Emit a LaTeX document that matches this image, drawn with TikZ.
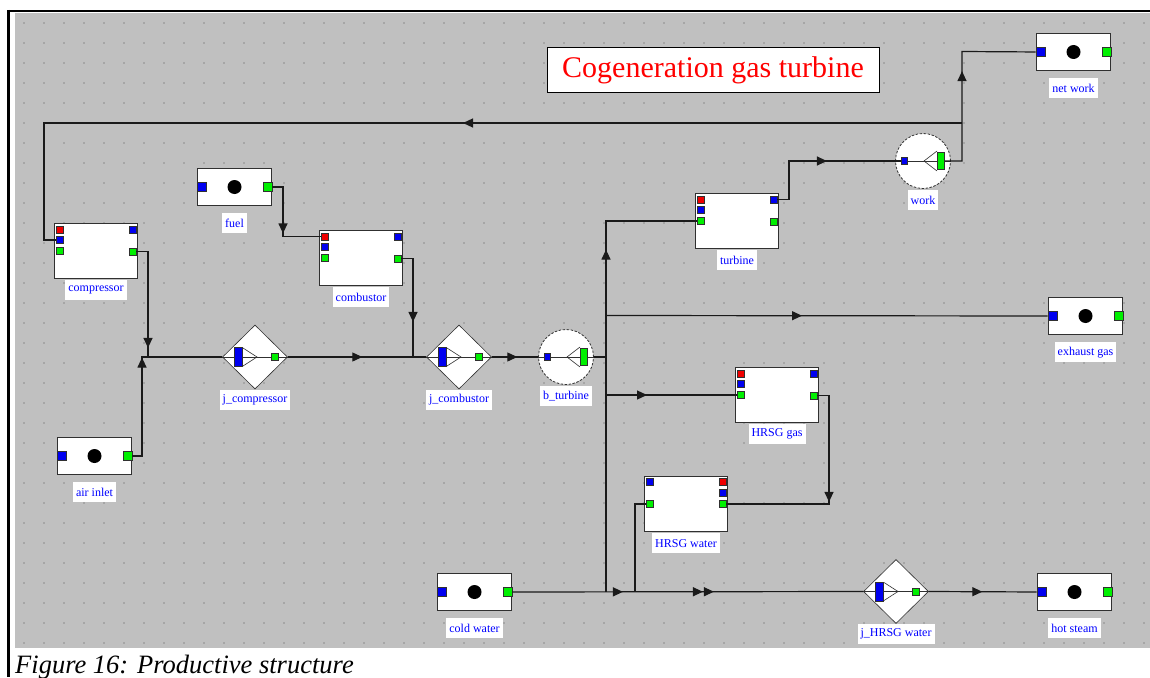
\documentclass[tikz,border=0pt]{standalone}
\usepackage{fontspec}
\setmainfont{Liberation Serif}
\usetikzlibrary{calc,shapes.geometric,arrows.meta,decorations.markings}

\definecolor{panel}{HTML}{C0C0C0}
\definecolor{griddot}{HTML}{A6A6A6}
\definecolor{pblue}{HTML}{0000F0}
\definecolor{pgreen}{HTML}{00F000}
\definecolor{pred}{HTML}{F00000}
\definecolor{tagblue}{HTML}{0000FF}
\definecolor{wirecol}{HTML}{1A1A1A}
\definecolor{edgecol}{HTML}{303030}

% source / sink unit: box with inlet port, outlet port and a dot
\newcommand\SrcUnit[4]{%
  \node[srcbox, anchor=north west] (#1) at (#2,#3) {};
  \node[srcport, fill=pblue]  (#1-b) at ($(#1.west)+(4.5,0)$) {};
  \node[srcport, fill=pgreen] (#1-g) at ($(#1.east)+(-4.5,0)$) {};
  \fill (#1.center) circle[radius=7pt];
  \node[tag, anchor=north] (#1-tag) at ($(#1.south)+(0,7)$) {#4};}

% process unit: three ports on the left, two on the right
\newcommand\ProcUnit[4]{%
  \node[procbox, anchor=north west] (#1) at (#2,#3) {};
  \node[pport, fill=pred]   (#1-lr) at ($(#1.north west)+(5.5,6.5)$) {};
  \node[pport, fill=pblue]  (#1-lb) at ($(#1.north west)+(5.5,17)$) {};
  \node[pport, fill=pgreen] (#1-lg) at ($(#1.north west)+(5.5,28)$) {};
  \node[pport, fill=pblue]  (#1-rb) at ($(#1.north east)+(-5.5,6.5)$) {};
  \node[pport, fill=pgreen] (#1-rg) at ($(#1.north east)+(-5.5,28.5)$) {};
  \node[tag, anchor=north] (#1-tag) at ($(#1.south)+(0,1)$) {#4};}

% junction: diamond that merges flows
\newcommand\JoinUnit[4]{%
  \node[joinshape] (#1) at (#2,#3) {};
  \draw[fine] (#1.west) -- (#1.east);
  \draw[fine] ($(#1.center)+(-12,-9)$) -- ($(#1.center)+(2,0)$) -- ($(#1.center)+(-12,9)$);
  \node[barport, fill=pblue] (#1-b) at ($(#1.center)+(-17,0)$) {};
  \node[pport, fill=pgreen]  (#1-g) at ($(#1.center)+(20,0)$) {};
  \node[tag, anchor=north] (#1-tag) at (#1.south) {#4};}

% branch: circle that splits a flow
\newcommand\SplitUnit[4]{%
  \node[splitshape] (#1) at (#2,#3) {};
  \draw[fine] (#1.west) -- (#1.east);
  \draw[fine] ($(#1.center)+(14,-10)$) -- ($(#1.center)+(1,0)$) -- ($(#1.center)+(14,10)$);
  \node[sport, fill=pblue]  (#1-b) at ($(#1.center)+(-19,0)$) {};
  \node[sbar, fill=pgreen]  (#1-g) at ($(#1.center)+(18,0)$) {};
  \node[tag, anchor=north] (#1-tag) at ($(#1.south)+(0,1)$) {#4};}

\begin{document}
\begin{tikzpicture}[x=1pt,y=-1pt,
  wire/.style={draw=wirecol, line width=1.2pt},
  fine/.style={draw=edgecol, line width=0.6pt},
  tipat/.style={postaction={decorate},
    decoration={markings, mark=at position #1 with {\arrow{Triangle[length=10pt,width=9pt]}}}},
  srcbox/.style={draw=edgecol, line width=1pt, fill=white, minimum width=74pt, minimum height=37pt, inner sep=0},
  procbox/.style={draw=edgecol, line width=1pt, fill=white, minimum width=83pt, minimum height=55pt, inner sep=0},
  srcport/.style={draw=edgecol, line width=0.8pt, minimum size=9pt, inner sep=0},
  pport/.style={draw=edgecol, line width=0.8pt, minimum size=7pt, inner sep=0},
  barport/.style={draw=edgecol, line width=0.8pt, minimum width=8pt, minimum height=19pt, inner sep=0},
  sport/.style={draw=edgecol, line width=0.8pt, minimum width=6pt, minimum height=7pt, inner sep=0},
  sbar/.style={draw=edgecol, line width=0.8pt, minimum width=7pt, minimum height=17pt, inner sep=0},
  joinshape/.style={diamond, draw=edgecol, line width=0.6pt, fill=white, minimum width=65pt, minimum height=64pt, inner sep=0},
  splitshape/.style={circle, draw=edgecol, line width=0.8pt, dash pattern=on 2.5pt off 1.5pt, fill=white, minimum size=55pt, inner sep=0},
  tag/.style={fill=white, text=tagblue, font=\fontsize{12}{12}\selectfont, inner xsep=3pt, inner ysep=0pt, minimum height=20pt}
]
\useasboundingbox (0,0) rectangle (1150,677);
\fill[white] (0,0) rectangle (1150,677);

% drawing panel with its dot grid
\fill[panel] (15,13) rectangle (1150,648);
\foreach \i in {0,...,56}{
  \foreach \j in {0,...,31}{
    \fill[griddot] (23.2+20*\i,22.2+20*\j) rectangle ++(1.6,1.6);
  }
}
\draw[line width=2.5pt] (7,11) -- (1150,11);
\draw[line width=2.5pt] (8.5,10) -- (8.5,677);

% title
\node[draw=black, line width=1pt, fill=white, minimum width=332pt, minimum height=44pt, inner sep=0,
      text=red, font=\fontsize{30}{30}\selectfont] (title) at (713,70) {Cogeneration gas turbine};

% sources and sinks
\SrcUnit{network}{1036}{33}{net work}
\SrcUnit{fuel}{197}{168}{fuel}
\SrcUnit{airinlet}{57}{437}{air inlet}
\SrcUnit{coldwater}{437}{573}{cold water}
\SrcUnit{hotsteam}{1037}{573}{hot steam}
\SrcUnit{exhaust}{1048}{297}{exhaust gas}

% process units
\ProcUnit{compressor}{54}{223}{compressor}
\ProcUnit{combustor}{319}{230}{combustor}
\ProcUnit{turbine}{695}{193}{turbine}
\ProcUnit{hrsgg}{735}{367}{HRSG gas}

% HRSG water: mirrored port layout
\node[procbox, anchor=north west] (hrsgw) at (644,476) {};
\node[pport, fill=pblue]  (hrsgw-lb) at ($(hrsgw.north west)+(5.5,6)$) {};
\node[pport, fill=pgreen] (hrsgw-lg) at ($(hrsgw.north west)+(5.5,28)$) {};
\node[pport, fill=pred]   (hrsgw-rr) at ($(hrsgw.north east)+(-5.5,6)$) {};
\node[pport, fill=pblue]  (hrsgw-rb) at ($(hrsgw.north east)+(-5.5,17)$) {};
\node[pport, fill=pgreen] (hrsgw-rg) at ($(hrsgw.north east)+(-5.5,28)$) {};
\node[tag, anchor=north] (hrsgw-tag) at ($(hrsgw.south)+(0,1)$) {HRSG water};

% junctions and branches
\JoinUnit{jcomp}{255}{357}{j\_compressor}
\JoinUnit{jcomb}{459}{357}{j\_combustor}
\JoinUnit{jhrsg}{896}{591.5}{j\_HRSG water}
\SplitUnit{bturb}{566}{357}{b\_turbine}
\SplitUnit{work}{923}{161}{work}

% bend points of the connectors
\coordinate (kA) at (142,357);
\coordinate (kB) at (148,357);
\coordinate (kD) at (413,357);
\coordinate (kF) at (283,236.5);
\coordinate (kT) at (606,221);
\coordinate (kM) at (606,357);
\coordinate (kW) at (606,591.5);
\coordinate (kE) at (606,315.5);
\coordinate (kG) at (606,395);
\coordinate (kH) at (635,591.5);
\coordinate (kN) at (829,504);
\coordinate (kP) at (789,161);
\coordinate (kQ) at (962,51.5);
\coordinate (kR) at (962,123);
\coordinate (kS) at (44,240);

% connectors
\draw[wire, tipat=108pt] (airinlet-g) -| (kA) -- (jcomp.west);
\draw[wire, tipat=108pt] (compressor-rg) -| (kB);
\draw[wire, tipat=74.5pt] (jcomp.east) -- (jcomb.west);
\draw[wire, tipat=75pt] (combustor-rg) -| (kD);
\draw[wire, tipat=57pt] (fuel-g) -| (kF) -- (combustor-lr);
\draw[wire, tipat=25.5pt] (jcomb.east) -- (bturb.west);
\draw[wire, tipat=119.5pt] (bturb.east) -| (kT) -- (turbine-lg);
\draw[wire] (kM) -- (kW);
\draw[wire, tipat=196pt] (kE) -- (exhaust-b);
\draw[wire, tipat=41pt] (kG) -- (hrsgg-lg);
\draw[wire, postaction={decorate}, decoration={markings,
    mark=at position 110.5pt with {\arrow{Triangle[length=10pt,width=9pt]}},
    mark=at position 190.5pt with {\arrow{Triangle[length=10pt,width=9pt]}},
    mark=at position 201.5pt with {\arrow{Triangle[length=10pt,width=9pt]}}}]
  (coldwater-g) -- (jhrsg.west);
\draw[wire] (kH) |- (hrsgw-lg);
\draw[wire, tipat=118pt] (hrsgg-rg) -| (kN) -- (hrsgw-rg);
\draw[wire, tipat=53.5pt] (jhrsg.east) -- (hotsteam-b);
\draw[wire, tipat=88pt] (turbine-rb) -| (kP) -- (work-b);
\draw[wire, tipat=107pt] (work-g) -| (kQ) -- (network-b);
\draw[wire, tipat=499pt] (kR) -| (kS) -- (compressor-lb);

% caption
\node[anchor=base west, inner sep=0, font=\fontsize{26.5}{26.5}\itshape] (caption) at (15,673) {Figure 16: Productive structure};
\end{tikzpicture}
\end{document}
